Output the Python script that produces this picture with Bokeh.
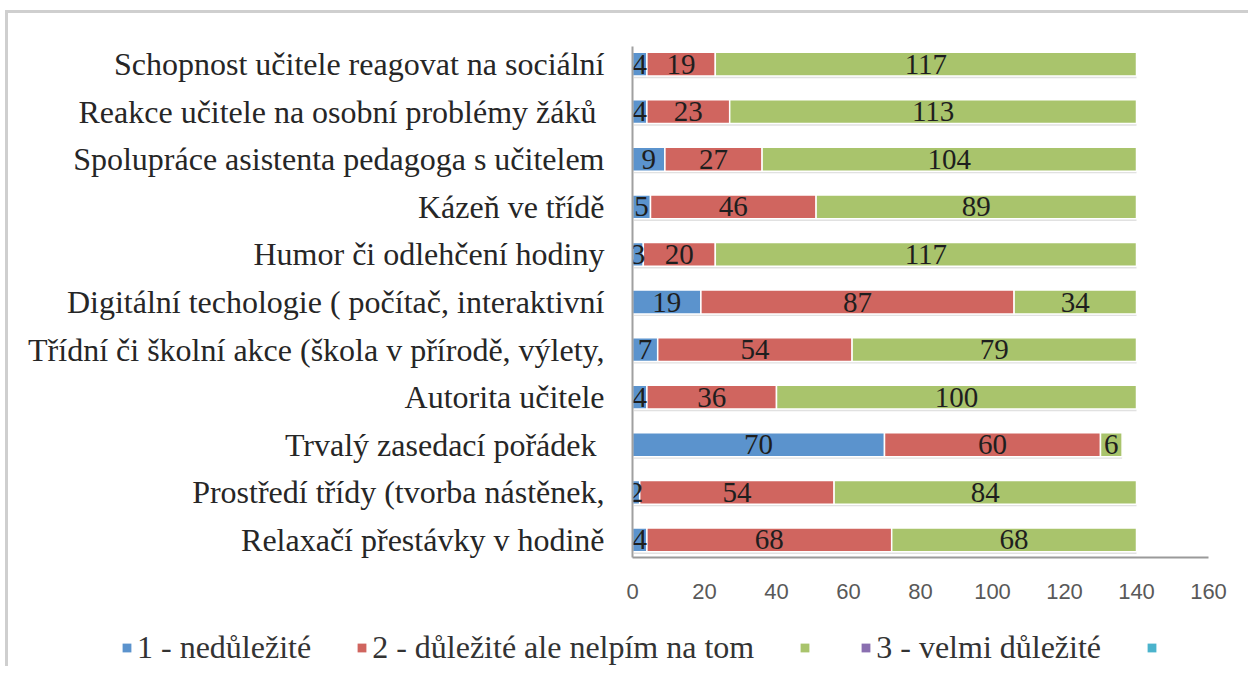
from bokeh.plotting import figure
from bokeh.models import ColumnDataSource, FactorRange, Range1d, FixedTicker, Legend, LegendItem
from bokeh.transform import dodge
from bokeh.core.properties import value
from bokeh.embed import file_html
from bokeh.resources import INLINE

# Categories, top to bottom as in the chart
categories = [
    "Schopnost učitele reagovat na sociální",
    "Reakce učitele na osobní problémy žáků ",
    "Spolupráce asistenta pedagoga s učitelem",
    "Kázeň ve třídě",
    "Humor či odlehčení hodiny",
    "Digitální techologie ( počítač, interaktivní",
    "Třídní či školní akce (škola v přírodě, výlety,",
    "Autorita učitele",
    "Trvalý zasedací pořádek ",
    "Prostředí třídy (tvorba nástěnek,",
    "Relaxačí přestávky v hodině",
]
nedulezite = [4, 4, 9, 5, 3, 19, 7, 4, 70, 2, 4]
dulezite = [19, 23, 27, 46, 20, 87, 54, 36, 60, 54, 68]
velmi = [117, 113, 104, 89, 117, 34, 79, 100, 6, 84, 68]

legend_labels = ["1 - nedůležité", "2 - důležité ale nelpím na tom", "", "3 - velmi důležité", ""]
colors = ["#5b93cd", "#d0655f", "#a9c46c", "#8a6fb0", "#4bb3cc"]
x_ticks = [0, 20, 40, 60, 80, 100, 120, 140, 160]

factors = categories[::-1]
totals = [a + b + c for a, b, c in zip(nedulezite, dulezite, velmi)]
src = ColumnDataSource(dict(cat=categories, s1=nedulezite, s2=dulezite, s3=velmi, total=totals))

p = figure(
    frame_width=576, frame_height=511,
    y_range=FactorRange(*factors, range_padding=-0.13, range_padding_units="absolute"),
    x_range=Range1d(0, 160),
    output_backend="svg", toolbar_location=None,
    min_border_left=624, min_border_right=40, min_border_top=33, min_border_bottom=64,
)
p.outline_line_color = None
p.xgrid.grid_line_color = None
p.ygrid.grid_line_color = None
p.styles = {"border-top": "3px solid #cfcfcf", "border-left": "3px solid #cfcfcf",
            "margin-left": "5px", "margin-top": "10px"}

# soft shadow under bars
p.hbar(y=dodge("cat", -0.045, range=p.y_range), left=0.4, right="total", height=0.5,
       fill_color="#d4d4d4", fill_alpha=0.7, line_color=None, source=src)

rs = p.hbar_stack(["s1", "s2", "s3"], y="cat", height=0.5, fill_color=colors[:3],
                  line_color="white", line_width=1.5, source=src)

# value labels at segment centres
series = [nedulezite, dulezite, velmi]
left = [0] * len(categories)
for vals in series:
    centers = [l + v / 2 for l, v in zip(left, vals)]
    p.text(x=centers, y=categories, text=[str(v) for v in vals],
           text_font=value("Liberation Serif"), text_font_size="29px",
           text_align="center", text_baseline="middle", text_color="#1e1e1e")
    left = [l + v for l, v in zip(left, vals)]

# axes
p.xaxis.ticker = FixedTicker(ticks=x_ticks)
p.xaxis.major_tick_line_color = None
p.xaxis.minor_tick_line_color = None
p.xaxis.major_tick_out = 0
p.xaxis.major_label_standoff = 26
p.xaxis.axis_line_color = "#9a9a9a"
p.xaxis.axis_line_width = 2
p.xaxis.major_label_text_font = "Liberation Sans"
p.xaxis.major_label_text_font_size = "22px"
p.xaxis.major_label_text_color = "#595959"

p.yaxis.major_tick_line_color = None
p.yaxis.minor_tick_line_color = None
p.yaxis.major_tick_out = 0
p.yaxis.major_label_standoff = 28
p.yaxis.axis_line_color = "#a0a0a0"
p.yaxis.axis_line_width = 2
p.yaxis.major_label_text_font = "Liberation Serif"
p.yaxis.major_label_text_font_size = "32px"
p.yaxis.major_label_text_color = "#262626"

# legend strip (separate root, so it is not aligned to the chart frame)
lf = figure(width=1240, height=45, output_backend="svg", toolbar_location=None,
            min_border=0, x_axis_type=None, y_axis_type=None)
lf.outline_line_color = None
lf.xgrid.grid_line_color = None
lf.ygrid.grid_line_color = None
lf.styles = {"border-left": "3px solid #cfcfcf", "margin-left": "5px"}
leg_src = ColumnDataSource(dict(y=[0], right=[0]))
leg_renderers = [lf.hbar(y="y", right="right", height=0.5, fill_color=c, line_color=None,
                         source=leg_src, visible=False) for c in colors]
legend = Legend(
    items=[LegendItem(label=value(l), renderers=[r]) for l, r in zip(legend_labels, leg_renderers)],
    orientation="horizontal", location=(113, 0),
    border_line_color=None, background_fill_alpha=0,
    label_text_font="Liberation Serif", label_text_font_size="32px", label_text_color="#333333",
    glyph_width=11, glyph_height=11, label_standoff=5, spacing=45, padding=0, margin=0,
    label_height=30, label_width=0,
)
lf.add_layout(legend)

open("out.html", "w").write(file_html([p, lf], INLINE))
